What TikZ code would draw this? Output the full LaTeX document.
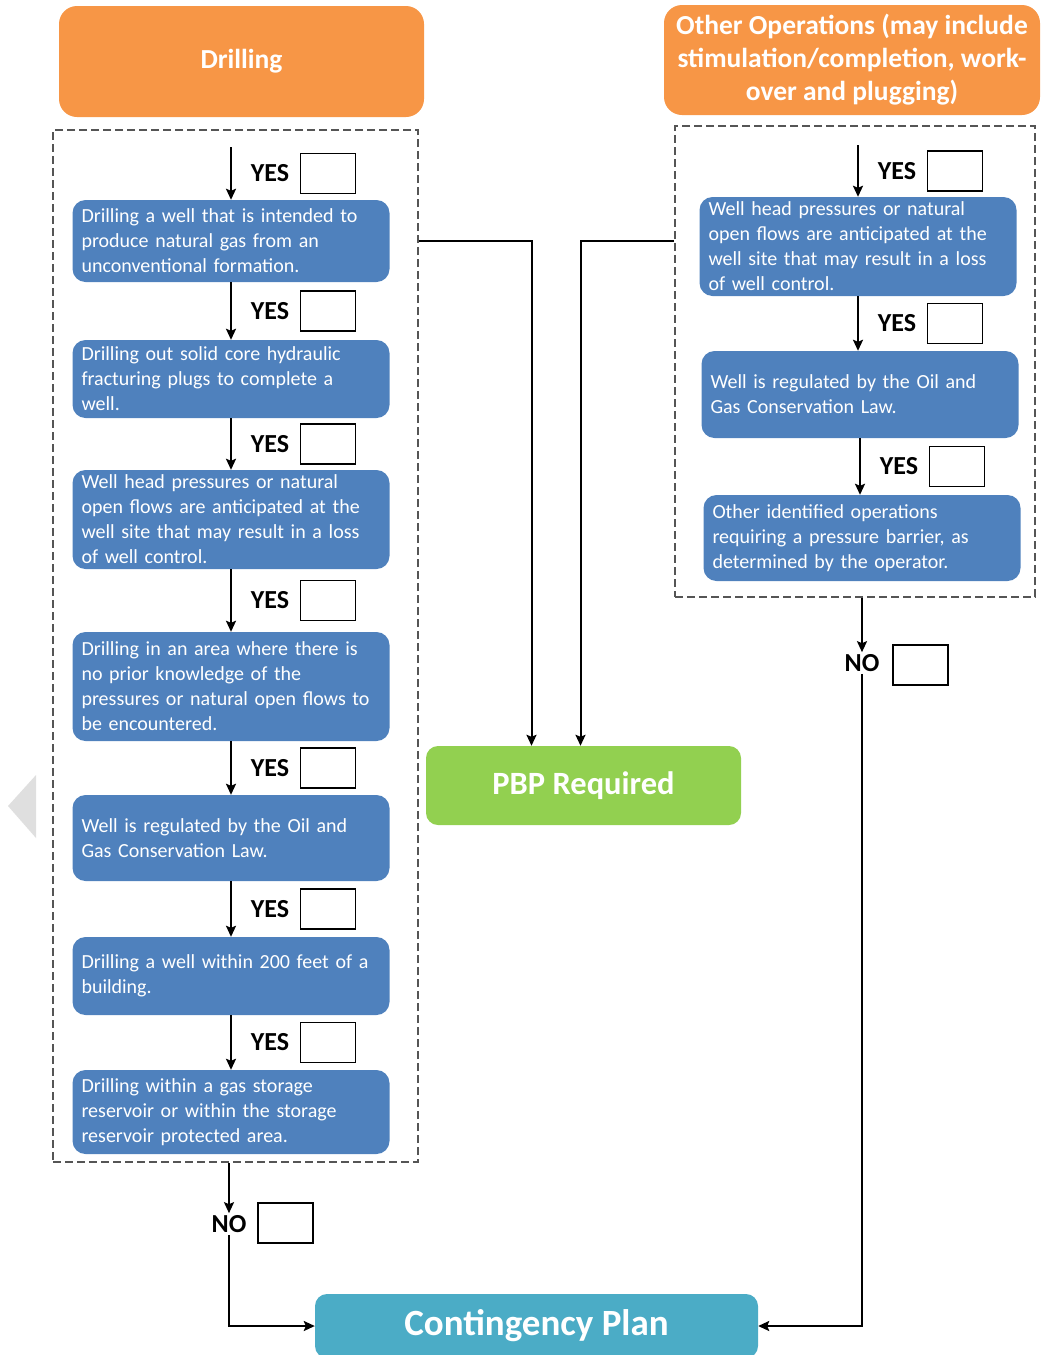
\documentclass[tikz,border=0pt]{standalone}
\usepackage{fontspec}
\setmainfont{Carlito}
\usetikzlibrary{arrows.meta}
\definecolor{headorange}{HTML}{F79646}
\definecolor{stepblue}{HTML}{4F81BD}
\definecolor{pbpgreen}{HTML}{92D050}
\definecolor{planteal}{HTML}{4BACC6}
\definecolor{framegray}{HTML}{555555}
\tikzset{>={Stealth[length=11pt,width=10pt,inset=2pt]}}

\begin{document}
\begin{tikzpicture}[x=1pt, y=-1pt,
  head/.style={rounded corners=18, fill=headorange, text=white, align=center,
    font=\bfseries\fontsize{27.5}{33}\selectfont},
  qbox/.style={rounded corners=13, fill=stepblue, text=white, align=left,
    text width=299, inner xsep=9, font=\fontsize{20}{25}\selectfont},
  ans/.style={font=\bfseries\fontsize{26}{28}\selectfont, inner sep=2},
  chkbox/.style={draw, line width=1.3, minimum width=55, minimum height=40},
  group/.style={draw=framegray, dashed, dash pattern=on 8 off 4, line width=1.8},
  link/.style={->, line width=2},
  result/.style={rounded corners=12, text=white, font=\bfseries\fontsize{32.5}{36}\selectfont}]
\useasboundingbox (0,0) rectangle (1042,1355);
\fill[gray!25] (36,775) -- (36,838) -- (8,806) -- cycle;

% headers
\node[head, minimum width=365, minimum height=111] (drill) at (241.5,61.5) {Drilling};
\node[head, minimum width=376, minimum height=110] (other) at (852,60)
  {Other Operations (may include\\ stimulation/completion, work-\\ over and plugging)};

% dashed groups
\node[group, minimum width=365, minimum height=1032] (lgrp) at (235.5,646) {};
\node[group, minimum width=360, minimum height=471] (rgrp) at (855,361.5) {};

% drilling column
\coordinate (ltop) at (231,147);
\node[qbox, minimum height=82] (l1) at (231,241) {Drilling a well that is intended to\\ produce natural gas from an\\ unconventional formation.};
\node[qbox, minimum height=78] (l2) at (231,379) {Drilling out solid core hydraulic\\ fracturing plugs to complete a\\ well.};
\node[qbox, minimum height=99] (l3) at (231,519.5) {Well head pressures or natural\\ open flows are anticipated at the\\ well site that may result in a loss\\ of well control.};
\node[qbox, minimum height=109] (l4) at (231,686.5) {Drilling in an area where there is\\ no prior knowledge of the\\ pressures or natural open flows to\\ be encountered.};
\node[qbox, minimum height=86] (l5) at (231,838) {Well is regulated by the Oil and\\ Gas Conservation Law.};
\node[qbox, minimum height=78] (l6) at (231,976) {Drilling a well within 200 feet of a\\ building.};
\node[qbox, minimum height=84] (l7) at (231,1112) {Drilling within a gas storage\\ reservoir or within the storage\\ reservoir protected area.};

% other operations column
\coordinate (rtop) at (858,145);
\node[qbox, minimum height=99] (r1) at (858,246.5) {Well head pressures or natural\\ open flows are anticipated at the\\ well site that may result in a loss\\ of well control.};
\node[qbox, minimum height=87] (r2) at (860,394.5) {Well is regulated by the Oil and\\ Gas Conservation Law.};
\node[qbox, minimum height=86] (r3) at (862,538) {Other identified operations\\ requiring a pressure barrier, as\\ determined by the operator.};

% results
\node[result, fill=pbpgreen, minimum width=315, minimum height=79] (pbp) at (583.5,785.5) {PBP Required};
\node[result, fill=planteal, minimum width=443, minimum height=64,
  font=\bfseries\fontsize{37}{40}\selectfont] (plan) at (536.5,1326) {Contingency Plan};

% yes arrows
\foreach \a/\b [count=\i] in {ltop/l1, l1/l2, l2/l3, l3/l4, l4/l5, l5/l6, l6/l7, rtop/r1, r1/r2, r2/r3}
  \draw[link] (\a) -- (\a |- \b.north)
    node[midway, ans, xshift=39] (yes\i) {YES}
    node[midway, chkbox, xshift=97] (chk\i) {};

% to PBP
\draw[link] (lgrp.east |- l1) -| ([xshift=-52]pbp.north);
\draw[link] (rgrp.west |- l1) -| ([xshift=-3]pbp.north);

% no branches
\node[ans] (noL) at (229,1224) {NO};
\node[chkbox] (chkL) at (285.5,1223) {};
\node[ans] (noR) at (862,663) {NO};
\node[chkbox] (chkR) at (920.5,665) {};
\draw[link] (lgrp.south -| noL) -- (noL.north);
\draw[link] (rgrp.south -| noR) -- (noR.north);
\draw[link] (noL.south) |- (plan.west);
\draw[link] (noR.south) |- (plan.east);
\end{tikzpicture}
\end{document}
